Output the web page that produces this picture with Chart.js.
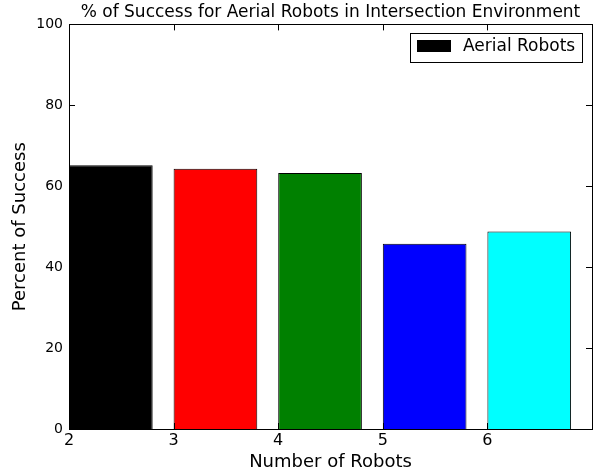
<!DOCTYPE html>
<html>
<head>
<meta charset="utf-8">
<script src="https://cdn.jsdelivr.net/npm/chart.js@4"></script>
<style>
html,body{margin:0;padding:0;background:#fff;}
#wrap{width:596px;height:475px;}
</style>
</head>
<body>
<div id="wrap"><canvas id="c" width="596" height="475"></canvas></div>
<script>
const robots = [2, 3, 4, 5, 6];
const successPct = [65.2, 64.3, 63.3, 45.8, 48.8];
const barColors = ['#000000', '#ff0000', '#008000', '#0000ff', '#00ffff'];
const seriesLabel = 'Aerial Robots';
const yTicks = [0, 20, 40, 60, 80, 100];
const xTicks = [2, 3, 4, 5, 6, 7];

const FONT = "'DejaVu Sans', sans-serif";
const BAR_W = 0.8; // bar width in data units, left-aligned at each x

const innerTicks = {
  id: 'innerTicks',
  afterDatasetsDraw(chart) {
    const {ctx, chartArea: a, scales: {x, y}} = chart;
    ctx.save();
    ctx.strokeStyle = '#000';
    ctx.lineWidth = 1;
    ctx.beginPath();
    xTicks.forEach(v => {
      const px = Math.round(x.getPixelForValue(v)) + 0.5;
      ctx.moveTo(px, a.bottom); ctx.lineTo(px, a.bottom - 6);
      ctx.moveTo(px, a.top); ctx.lineTo(px, a.top + 6);
    });
    yTicks.forEach(v => {
      const py = Math.round(y.getPixelForValue(v)) + 0.5;
      ctx.moveTo(a.left, py); ctx.lineTo(a.left + 6, py);
      ctx.moveTo(a.right, py); ctx.lineTo(a.right - 6, py);
    });
    ctx.stroke();
    ctx.strokeRect(Math.round(a.left) + 0.5, Math.round(a.top) + 0.5, Math.round(a.right - a.left), Math.round(a.bottom - a.top));
    // legend
    const lx = 410.5, ly = 33.5, lw = 172, lh = 29;
    ctx.fillStyle = '#fff';
    ctx.fillRect(lx, ly, lw, lh);
    ctx.strokeRect(lx, ly, lw, lh);
    ctx.fillStyle = barColors[0];
    ctx.fillRect(417, 40, 34, 12);
    ctx.fillStyle = '#000';
    ctx.font = "17px " + FONT;
    ctx.textBaseline = 'middle';
    ctx.textAlign = 'left';
    ctx.fillText(seriesLabel, 463, 47);
    ctx.restore();
  }
};

new Chart(document.getElementById('c'), {
  type: 'bar',
  data: {
    datasets: [{
      label: seriesLabel,
      data: robots.map((r, i) => ({x: r + BAR_W / 2, y: successPct[i]})),
      backgroundColor: barColors,
      borderColor: '#000',
      borderWidth: 1,
      barPercentage: BAR_W,
      categoryPercentage: 1.0
    }]
  },
  options: {
    responsive: false,
    animation: false,
    devicePixelRatio: 1,
    layout: {padding: {top: 0, right: 4, left: 0, bottom: 0}},
    plugins: {
      legend: {display: false},
      tooltip: {enabled: false},
      title: {
        display: true,
        fullSize: false,
        text: '% of Success for Aerial Robots in Intersection Environment',
        color: '#000',
        font: {family: FONT, size: 17, weight: 'normal'},
        padding: {top: 2, bottom: 2}
      }
    },
    scales: {
      x: {
        type: 'linear',
        min: 2, max: 7,
        offset: false,
        afterBuildTicks: s => { s.ticks = xTicks.map(v => ({value: v})); },
        afterFit: s => { s.height = 46; },
        grid: {display: false, drawTicks: false},
        border: {display: false},
        ticks: {
          color: '#000',
          font: {family: FONT, size: 16},
          padding: 2,
          maxRotation: 0,
          callback: v => (v === 7 ? '' : String(v))
        },
        title: {
          display: true,
          text: 'Number of Robots',
          color: '#000',
          font: {family: FONT, size: 18},
          padding: {top: 0, bottom: 2}
        }
      },
      y: {
        min: 0, max: 100,
        afterBuildTicks: s => { s.ticks = yTicks.map(v => ({value: v})); },
        afterFit: s => { s.width = 69; },
        grid: {display: false, drawTicks: false},
        border: {display: false},
        ticks: {
          color: '#000',
          font: {family: FONT, size: 14},
          padding: 6
        },
        title: {
          display: true,
          text: 'Percent of Success',
          color: '#000',
          font: {family: FONT, size: 18},
          padding: {top: 10, bottom: 0}
        }
      }
    }
  },
  plugins: [innerTicks]
});
</script>
</body>
</html>
